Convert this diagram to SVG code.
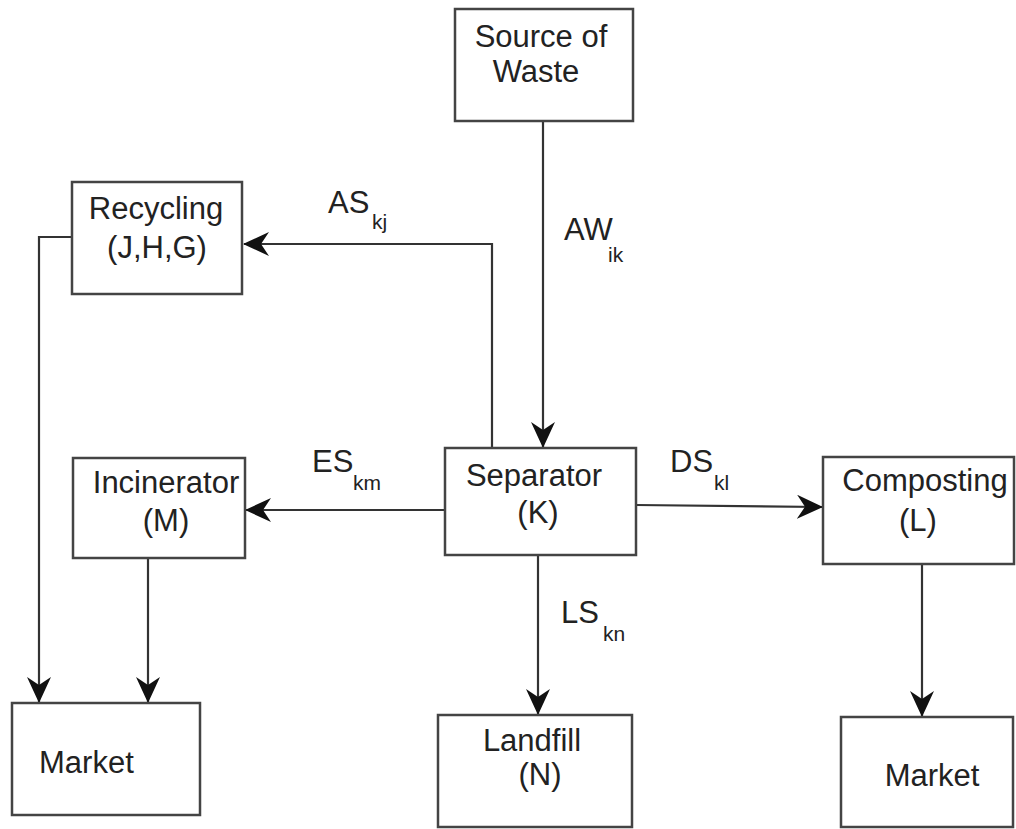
<svg xmlns="http://www.w3.org/2000/svg" width="1016" height="829" viewBox="0 0 1016 829">
<defs>
<marker id="ah" markerUnits="userSpaceOnUse" markerWidth="26" markerHeight="24" viewBox="0 0 26 24" refX="25" refY="12" orient="auto">
<path d="M0,0 L26,12 L0,24 L8,12 Z" fill="#111"/>
</marker>
<style>
.box{fill:#fff;stroke:#444;stroke-width:2.5}
.t{font-family:"Liberation Sans",Arial,sans-serif;font-size:31px;fill:#222;text-anchor:middle}
.l{font-family:"Liberation Sans",Arial,sans-serif;font-size:31px;fill:#222}
.s{font-family:"Liberation Sans",Arial,sans-serif;font-size:21px;fill:#222}
.c{fill:none;stroke:#333;stroke-width:2.2}
</style>
</defs>
<rect width="1016" height="829" fill="#fff"/>
<g id="connectors">
<path class="c" d="M543,121 V447" marker-end="url(#ah)"/>
<path class="c" d="M492,448 V244 H244" marker-end="url(#ah)"/>
<path class="c" d="M445,510 H246" marker-end="url(#ah)"/>
<path class="c" d="M636,505 L822,507" marker-end="url(#ah)"/>
<path class="c" d="M538,555 V714" marker-end="url(#ah)"/>
<path class="c" d="M72,237 H39 V702" marker-end="url(#ah)"/>
<path class="c" d="M148,558 V702" marker-end="url(#ah)"/>
<path class="c" d="M922,563 V716" marker-end="url(#ah)"/>
<text class="l" x="328" y="213">AS</text><text class="s" x="372" y="229">kj</text>
<text class="l" x="564" y="240">AW</text><text class="s" x="608" y="262">ik</text>
<text class="l" x="312" y="472">ES</text><text class="s" x="353" y="490">km</text>
<text class="l" x="670" y="472">DS</text><text class="s" x="714" y="490">kl</text>
<text class="l" x="561" y="623">LS</text><text class="s" x="603" y="641">kn</text>
</g>
<g id="source">
<rect class="box" x="455" y="9" width="178" height="112"/>
<text class="t" x="541" y="47">Source of</text>
<text class="t" x="536" y="82">Waste</text>
</g>
<g id="recycling">
<rect class="box" x="72" y="182" width="170" height="112"/>
<text class="t" x="156" y="219">Recycling</text>
<text class="t" x="157" y="258">(J,H,G)</text>
</g>
<g id="incinerator">
<rect class="box" x="73" y="458" width="172" height="100"/>
<text class="t" x="166" y="493">Incinerator</text>
<text class="t" x="166" y="531">(M)</text>
</g>
<g id="separator">
<rect class="box" x="445" y="448" width="191" height="107"/>
<text class="t" x="534" y="486">Separator</text>
<text class="t" x="538" y="523">(K)</text>
</g>
<g id="composting">
<rect class="box" x="823" y="457" width="191" height="107"/>
<text class="t" x="925" y="491">Composting</text>
<text class="t" x="918" y="531">(L)</text>
</g>
<g id="market-left">
<rect class="box" x="12" y="703" width="188" height="112"/>
<text class="l" x="39" y="773">Market</text>
</g>
<g id="landfill">
<rect class="box" x="438" y="715" width="194" height="112"/>
<text class="t" x="532" y="751">Landfill</text>
<text class="t" x="540" y="785">(N)</text>
</g>
<g id="market-right">
<rect class="box" x="841" y="717" width="172" height="110"/>
<text class="t" x="932" y="786">Market</text>
</g>
</svg>
